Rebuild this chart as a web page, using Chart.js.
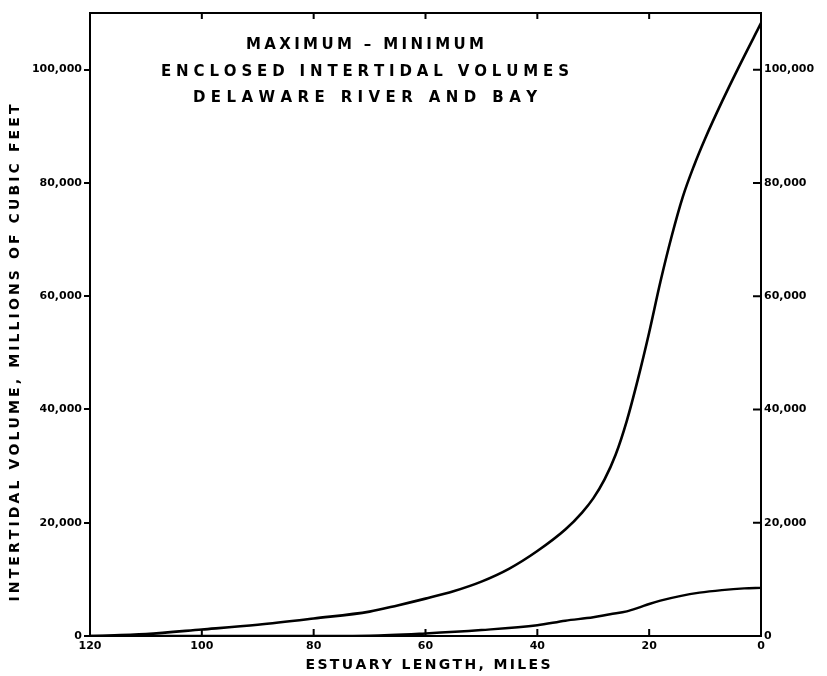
<!DOCTYPE html>
<html>
<head>
<meta charset="utf-8">
<script src="https://cdn.jsdelivr.net/npm/chart.js@4.4.0/dist/chart.umd.min.js"></script>
<style>
  html, body { margin: 0; padding: 0; background: #fff; }
</style>
</head>
<body>
<canvas id="chart" width="827" height="676"></canvas>
<script>
// estuary length in miles (axis runs 120 -> 0) and volumes in millions of cu ft
const milesMax = [120, 110, 100, 90, 80, 70, 65, 60, 55, 50, 45, 40, 35, 32, 30, 28, 26, 24, 22, 20, 18, 16, 14, 12, 10, 7, 4, 0];
const volMax = [0, 350, 1150, 2000, 3100, 4300, 5400, 6600, 7900, 9600, 11900, 15000, 18800, 21800, 24300, 27600, 32000, 38000, 45400, 53600, 62500, 70500, 77500, 83000, 87800, 94300, 100400, 108200];

const milesMin = [120, 100, 80, 70, 60, 50, 40, 35, 30, 27, 24, 22, 20, 18, 14.5, 11, 7, 3, 0];
const volMin = [0, 0, 0, 50, 450, 1050, 1900, 2700, 3300, 3850, 4350, 4950, 5650, 6250, 7050, 7650, 8100, 8400, 8500];

const xTicks = [120, 100, 80, 60, 40, 20, 0];
const yTicks = [0, 20000, 40000, 60000, 80000, 100000];

const titleLines = ['MAXIMUM \u2013 MINIMUM', 'ENCLOSED INTERTIDAL VOLUMES', 'DELAWARE RIVER AND BAY'];
const xTitle = 'ESTUARY LENGTH, MILES';
const yTitle = 'INTERTIDAL VOLUME, MILLIONS OF CUBIC FEET';

const tickFont = { family: 'DejaVu Sans', size: 11, weight: 'bold' };

// draw text spread out to a given width (lettering look of the original)
function spacedText(ctx, text, cx, cy, width) {
    const chars = text.split('');
    const widths = chars.map(c => ctx.measureText(c).width);
    const total = widths.reduce((a, b) => a + b, 0);
    const gap = (width - total) / (chars.length - 1);
    let x = cx - width / 2;
    ctx.textAlign = 'left';
    ctx.textBaseline = 'middle';
    chars.forEach((c, i) => {
        ctx.fillText(c, x, cy);
        x += widths[i] + gap;
    });
}

const framePlugin = {
    id: 'frame',
    afterDraw(chart) {
        const ctx = chart.ctx;
        const a = chart.chartArea;
        const xs = chart.scales.x;
        const ys = chart.scales.y2;
        ctx.save();
        ctx.strokeStyle = '#000';
        ctx.lineWidth = 2;
        ctx.strokeRect(a.left, a.top, a.right - a.left, a.bottom - a.top);

        // inward ticks: bottom, top, right
        ctx.beginPath();
        xTicks.forEach(v => {
            const px = xs.getPixelForValue(v);
            ctx.moveTo(px, a.bottom);
            ctx.lineTo(px, a.bottom - 7);
            if (v !== 0 && v !== 120) {
                ctx.moveTo(px, a.top);
                ctx.lineTo(px, a.top + 6);
            }
        });
        yTicks.forEach(v => {
            const py = ys.getPixelForValue(v);
            ctx.moveTo(a.right, py);
            ctx.lineTo(a.right - 8, py);
        });
        ctx.stroke();

        ctx.fillStyle = '#000';
        ctx.font = 'bold 15px "DejaVu Sans"';
        spacedText(ctx, titleLines[0], 365, 45, 238);
        spacedText(ctx, titleLines[1], 365, 72, 408);
        spacedText(ctx, titleLines[2], 365, 98, 344);

        ctx.font = 'bold 14px "DejaVu Sans"';
        spacedText(ctx, xTitle, 428, 665, 245);

        ctx.translate(15, 353);
        ctx.rotate(-Math.PI / 2);
        spacedText(ctx, yTitle, 0, 0, 497);
        ctx.restore();
    }
};

const toPoints = (xs, ys) => xs.map((x, i) => ({ x: x, y: ys[i] }));

const yAxis = (position, width, drawTicks, padding) => ({
    type: 'linear',
    position: position,
    min: 0,
    max: 110000,
    afterBuildTicks: s => { s.ticks = yTicks.map(v => ({ value: v })); },
    afterFit: s => { s.width = width; },
    ticks: {
        color: '#000',
        font: tickFont,
        padding: padding,
        callback: v => v.toLocaleString('en-US')
    },
    grid: { drawOnChartArea: false, drawTicks: drawTicks, tickLength: 6, color: '#000', lineWidth: 2 },
    border: { display: false }
});

new Chart(document.getElementById('chart'), {
    type: 'line',
    data: {
        datasets: [
            {
                label: 'Maximum',
                data: toPoints(milesMax, volMax),
                borderColor: '#000',
                borderWidth: 2.6,
                pointRadius: 0,
                cubicInterpolationMode: 'monotone',
                fill: false
            },
            {
                label: 'Minimum',
                data: toPoints(milesMin, volMin),
                borderColor: '#000',
                borderWidth: 2.4,
                pointRadius: 0,
                cubicInterpolationMode: 'monotone',
                fill: false
            }
        ]
    },
    options: {
        responsive: false,
        animation: false,
        layout: { padding: { top: 13, left: 0, right: 0, bottom: 0 } },
        plugins: {
            legend: { display: false },
            tooltip: { enabled: false }
        },
        scales: {
            x: {
                type: 'linear',
                reverse: true,
                min: 0,
                max: 120,
                afterBuildTicks: s => { s.ticks = xTicks.map(v => ({ value: v })); },
                afterFit: s => { s.height = 40; },
                ticks: { color: '#000', font: tickFont, padding: 4, maxRotation: 0, autoSkip: false },
                grid: { drawOnChartArea: false, drawTicks: false },
                border: { display: false }
            },
            y: yAxis('left', 90, true, 2),
            y2: yAxis('right', 66, false, 3)
        }
    },
    plugins: [framePlugin]
});
</script>
</body>
</html>
